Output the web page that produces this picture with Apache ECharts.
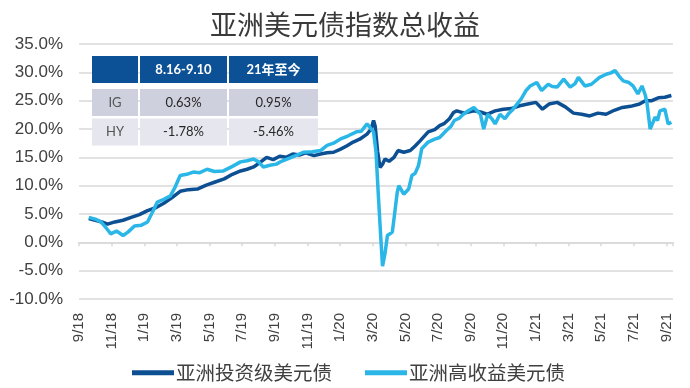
<!DOCTYPE html>
<html><head><meta charset="utf-8">
<script src="https://cdn.jsdelivr.net/npm/echarts@6/dist/echarts.min.js"></script>
<style>html,body{margin:0;padding:0;background:#fff}#c{width:690px;height:388px}</style>
</head><body><div id="c"></div>
<script>
// Month index (0 = 9/18) and cumulative return (%)
var tickLabels = ["9/18","11/18","1/19","3/19","5/19","7/19","9/19","11/19","1/20","3/20","5/20","7/20","9/20","11/20","1/21","3/21","5/21","7/21","9/21"];
var seriesNames = ["亚洲投资级美元债","亚洲高收益美元债"];
var igData = [[0.6,4.2],[1.0,3.9],[1.4,3.6],[1.75,3.2],[2.2,3.6],[2.7,3.9],[3.2,4.4],[3.7,4.9],[4.2,5.6],[4.7,6.1],[5.2,6.9],[5.7,7.9],[6.2,9.0],[6.7,9.3],[7.25,9.4],[7.8,10.1],[8.3,10.6],[8.9,11.2],[9.4,12.0],[9.9,12.6],[10.3,12.9],[10.7,13.3],[11.1,14.1],[11.5,15.0],[11.9,14.6],[12.3,15.2],[12.7,15.0],[13.1,15.6],[13.5,15.4],[13.9,15.8],[14.4,15.3],[14.8,15.6],[15.2,15.8],[15.6,15.9],[16.0,16.4],[16.4,17.0],[16.8,17.7],[17.2,18.2],[17.65,19.1],[17.9,20.0],[18.05,21.5],[18.15,20.5],[18.3,16.0],[18.45,13.2],[18.6,13.8],[18.75,14.7],[19.0,14.3],[19.3,15.0],[19.55,16.2],[19.9,15.9],[20.3,16.2],[20.6,17.0],[20.9,17.9],[21.4,19.5],[21.8,19.9],[22.1,20.6],[22.4,21.0],[22.7,21.8],[22.95,22.9],[23.15,23.2],[23.6,22.8],[24.2,23.2],[24.6,23.0],[25.0,22.6],[25.5,23.2],[26.0,23.5],[26.5,23.6],[27.0,24.1],[27.5,24.4],[28.0,24.7],[28.4,23.5],[28.8,24.4],[29.3,24.7],[29.8,23.9],[30.3,22.8],[30.8,22.6],[31.3,22.3],[31.8,22.8],[32.3,22.6],[32.8,23.3],[33.3,23.8],[33.8,24.0],[34.35,24.4],[34.7,25.0],[35.1,25.0],[35.5,25.5],[35.9,25.6],[36.3,25.9]];
var hyData = [[0.6,4.4],[1.0,4.1],[1.35,3.6],[1.7,2.4],[1.95,1.5],[2.3,2.0],[2.7,1.2],[3.0,1.8],[3.4,2.9],[3.8,3.0],[4.2,3.6],[4.5,5.3],[4.8,7.1],[5.2,7.6],[5.6,8.2],[5.9,9.8],[6.2,11.8],[6.6,12.0],[7.0,12.4],[7.4,12.3],[7.85,12.9],[8.3,12.5],[8.85,12.6],[9.4,13.4],[9.9,14.2],[10.3,14.4],[10.7,14.7],[11.0,14.2],[11.3,13.3],[11.7,13.6],[12.1,13.8],[12.4,14.3],[12.75,14.7],[13.2,15.2],[13.75,15.9],[14.3,16.0],[14.8,16.2],[15.2,17.1],[15.6,17.5],[16.0,18.2],[16.5,18.8],[17.0,19.5],[17.3,19.6],[17.65,20.9],[17.85,20.2],[18.05,19.5],[18.2,16.0],[18.35,8.0],[18.5,0.5],[18.6,-4.2],[18.75,-2.0],[18.9,1.2],[19.2,1.8],[19.3,4.1],[19.5,8.8],[19.6,10.0],[19.9,8.5],[20.2,9.4],[20.4,11.8],[20.6,12.2],[20.8,13.5],[21.0,16.5],[21.4,17.7],[21.8,18.2],[22.1,18.5],[22.5,19.7],[22.8,20.5],[23.0,21.5],[23.3,21.9],[23.55,22.6],[23.9,23.3],[24.2,23.8],[24.6,22.6],[24.8,20.0],[25.05,22.6],[25.3,21.8],[25.5,20.9],[25.8,22.6],[26.1,21.8],[26.35,22.8],[26.6,23.5],[27.1,25.3],[27.4,26.8],[27.65,27.6],[28.05,28.2],[28.35,26.8],[28.75,27.9],[29.0,27.5],[29.3,27.4],[29.7,28.8],[30.1,27.4],[30.4,28.0],[30.6,29.1],[31.0,27.6],[31.4,27.9],[31.9,29.1],[32.35,29.7],[32.6,29.9],[32.85,30.3],[33.1,29.3],[33.35,28.5],[33.7,28.2],[33.95,27.6],[34.25,26.2],[34.5,27.6],[34.7,26.0],[34.8,24.7],[35.0,20.0],[35.15,21.0],[35.3,22.1],[35.45,21.5],[35.6,23.2],[35.9,23.5],[36.1,20.9],[36.3,21.2]];
// Inset table
var tableHeader = ["","8.16-9.10","21年至今"];
var tableRows = [["IG","0.63%","0.95%"],["HY","-1.78%","-5.46%"]];

var FONT = "'Liberation Sans','Noto Sans CJK SC',sans-serif";
var CJK = "'Noto Sans CJK SC',sans-serif";
var TF = "Lato,'Noto Sans CJK SC',sans-serif";

var colX = [92, 140, 229], colW = [46, 87, 89];
var rowY = [56, 89, 118.5], rowH = [27, 27, 27];
var rowFill = ["#0c5195", "#cfd0dd", "#e5e6ee"];
var g = [];
var allRows = [tableHeader].concat(tableRows);
allRows.forEach(function (r, ri) {
  r.forEach(function (t, ci) {
    g.push({type:'rect', shape:{x:colX[ci], y:rowY[ri], width:colW[ci], height:rowH[ri]}, style:{fill:rowFill[ri]}, z:10});
    g.push({type:'text', x:colX[ci]+colW[ci]/2, y:rowY[ri]+rowH[ri]/2, z:11,
      style:{text:t, align:'center', verticalAlign:'middle', fill: ri===0 ? '#ffffff' : (ci===0 ? '#555555' : '#262626'),
        font: (ri===0 ? 'bold ' : '') + '13px ' + TF}});
  });
});

var chart = echarts.init(document.getElementById('c'));
chart.setOption({
  animation:false,
  title:{text:'亚洲美元债指数总收益', left:'center', top:6, textStyle:{fontFamily:CJK, fontSize:27, fontWeight:'normal', color:'#3a3a3a'}},
  grid:{left:79, right:17, top:44, bottom:89, containLabel:false},
  legend:{left:127, top:358, itemWidth:42, itemHeight:5, itemGap:33, icon:'rect',
    textStyle:{fontFamily:CJK, fontSize:19.5, color:'#404040', padding:[0,0,0,-3]},
    data:seriesNames},
  xAxis:[
    {type:'value', min:0, max:36.4, interval:2, position:'bottom',
     axisLine:{show:false, onZero:false}, axisTick:{show:false}, splitLine:{show:false},
     axisLabel:{rotate:90, margin:14, fontFamily:FONT, fontSize:15, color:'#404040', showMaxLabel:false,
       formatter:function(v){ var i=Math.round(v/2); return (Math.abs(v-i*2)<1e-6 && tickLabels[i]) ? tickLabels[i] : ''; }}},
    {type:'value', min:0, max:36.4, interval:2, position:'bottom',
     axisLine:{show:true, onZero:true, lineStyle:{color:'#d9d9d9', width:1.5}},
     axisTick:{show:true, length:4, lineStyle:{color:'#d9d9d9', width:1.5}},
     axisLabel:{show:false}, splitLine:{show:false}}
  ],
  yAxis:{type:'value', min:-10, max:35, interval:5,
    axisLine:{show:false}, axisTick:{show:false},
    splitLine:{lineStyle:{color:'#d9d9d9', width:1.5}},
    axisLabel:{margin:16, fontFamily:FONT, fontSize:17, color:'#404040', formatter:function(v){return v.toFixed(1)+'%';}}},
  graphic:g,
  series:[
    {name:seriesNames[0], type:'line', xAxisIndex:0, data:igData, showSymbol:false, smooth:false,
     lineStyle:{color:'#0d4f93', width:3.5}, itemStyle:{color:'#0d4f93'}, z:3},
    {name:seriesNames[1], type:'line', xAxisIndex:0, data:hyData, showSymbol:false, smooth:false,
     lineStyle:{color:'#2ab7e7', width:3.5}, itemStyle:{color:'#2ab7e7'}, z:4}
  ]
});
</script></body></html>
